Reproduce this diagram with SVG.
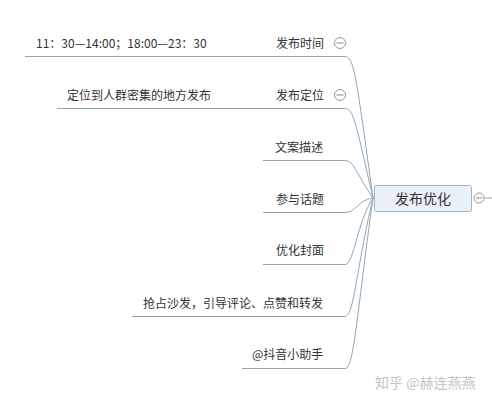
<svg xmlns="http://www.w3.org/2000/svg" width="492" height="404" viewBox="0 0 492 404">
<style>
text{font-family:"Noto Sans CJK SC","Liberation Sans",sans-serif;fill:#333;font-size:12px;dominant-baseline:central}
.ln{fill:none;stroke:#8ea5b6;stroke-width:1}
.cc{fill:#fff;stroke:#999;stroke-width:1}
.cm{stroke:#888;stroke-width:1}
</style>
<rect width="492" height="404" fill="#fff"/>
<g id="connectors">
<path class="ln" d="M25,56.5 H345 C354,56.5 356,75 373,198"/>
<path class="ln" d="M57,108.5 H345 C354,108.5 356,125 373,198"/>
<path class="ln" d="M263,160.5 H345 C354,160.5 357,175 373,198"/>
<path class="ln" d="M263,212.5 H345 C356,212.5 358,200 373,198"/>
<path class="ln" d="M263,264.5 H345 C354,264.5 357,222 373,198"/>
<path class="ln" d="M132,316.5 H345 C354,316.5 356,270 373,198"/>
<path class="ln" d="M242,368.5 H345 C354,368.5 356,320 373,198"/>
<path class="ln" d="M484,198 H492"/>
</g>
<g id="center">
<rect x="374.5" y="185.5" width="97" height="26" rx="2" fill="#e9f0f7" stroke="#9fb4c6"/>
<text x="423" y="198" text-anchor="middle" style="font-size:14px">发布优化</text>
<circle class="cc" cx="479" cy="198" r="5"/>
<line class="cm" x1="476" y1="198" x2="482" y2="198"/>
</g>
<g id="n1">
<text x="276" y="42">发布时间</text>
<circle class="cc" cx="340" cy="43" r="5.5"/>
<line class="cm" x1="336.5" y1="43" x2="343.5" y2="43"/>
</g>
<g id="n1c"><text x="36" y="42">11：30—14:00；18:00—23：30</text></g>
<g id="n2">
<text x="276" y="94">发布定位</text>
<circle class="cc" cx="340" cy="95" r="5.5"/>
<line class="cm" x1="336.5" y1="95" x2="343.5" y2="95"/>
</g>
<g id="n2c"><text x="67" y="94">定位到人群密集的地方发布</text></g>
<g id="n3"><text x="275" y="146">文案描述</text></g>
<g id="n4"><text x="276" y="198">参与话题</text></g>
<g id="n5"><text x="276" y="249">优化封面</text></g>
<g id="n6"><text x="143" y="302">抢占沙发，引导评论、点赞和转发</text></g>
<g id="n7"><text x="252" y="353">@抖音小助手</text></g>
<text x="375" y="382" style="font-size:14px;fill:#c4c4c4">知乎 @赫连燕燕</text>
</svg>
